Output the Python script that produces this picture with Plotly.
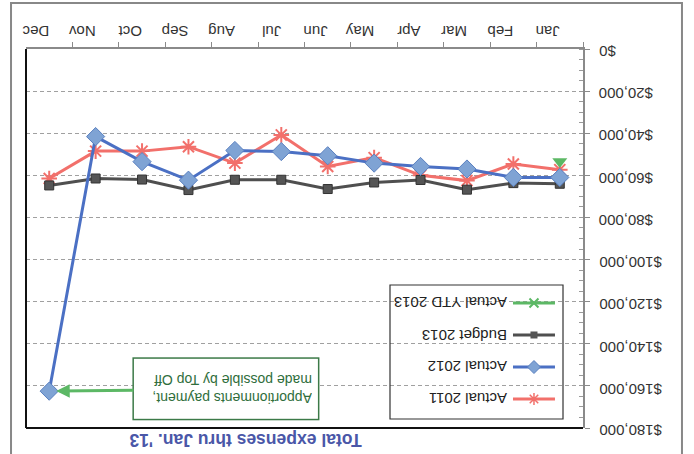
import plotly.graph_objects as go

months = ["Jan", "Feb", "Mar", "Apr", "May", "Jun", "Jul", "Aug", "Sep", "Oct", "Nov", "Dec"]
actual_2011 = [57300, 54600, 62500, 60000, 51600, 55800, 40800, 54200, 46400, 48500, 48500, 61500]
actual_2012 = [61000, 61000, 57000, 55800, 54200, 50700, 48700, 48200, 62300, 53500, 41600, 162500]
budget_2013 = [64000, 63700, 66800, 62200, 63400, 66500, 62100, 62100, 67000, 62000, 61500, 64800]
ytd_2013 = [53400, None, None, None, None, None, None, None, None, None, None, None]
y_ticks = [0, 20000, 40000, 60000, 80000, 100000, 120000, 140000, 160000, 180000]

series_names = ["Actual 2011", "Actual 2012", "Budget 2013", "Actual YTD 2013"]
title_text = "Total expenses thru Jan. '13"
note_text = "Apportionments payment,<br>made possible by Top Off"

RED = "#F2706B"
BLUE = "#4B70C4"
BLUE_FILL = "#7FA3D4"
GRAY = "#4F4F4F"
GREEN = "#5CB865"
FONT = "Liberation Sans, Arial, sans-serif"

fig = go.Figure()

fig.add_trace(go.Scatter(x=months, y=actual_2011, name=series_names[0], mode="lines+markers",
                         line=dict(color=RED, width=3),
                         marker=dict(symbol="asterisk-open", size=13, color=RED, line=dict(color=RED, width=2)),
                         cliponaxis=False))
fig.add_trace(go.Scatter(x=months, y=budget_2013, name=series_names[2], mode="lines+markers",
                         line=dict(color=GRAY, width=3),
                         marker=dict(symbol="square", size=9, color="#555555", line=dict(color="#333333", width=1)),
                         cliponaxis=False))
fig.add_trace(go.Scatter(x=months, y=actual_2012, name=series_names[1], mode="lines+markers",
                         line=dict(color=BLUE, width=3),
                         marker=dict(symbol="diamond", size=14, color=BLUE_FILL, line=dict(color="#5A80C0", width=1)),
                         cliponaxis=False))
fig.add_trace(go.Scatter(x=months, y=ytd_2013, name=series_names[3], mode="lines+markers",
                         line=dict(color=GREEN, width=3),
                         marker=dict(symbol="triangle-down", size=13, color=GREEN),
                         cliponaxis=False))

# hand-made upside-down legend on an overlay axis in paper units
leg_rows = [0.3298, 0.2454, 0.1609, 0.0765]
leg_specs = [
    (series_names[3], GREEN, dict(symbol="x-thin-open", size=9, color=GREEN, line=dict(color=GREEN, width=2))),
    (series_names[2], GRAY, dict(symbol="square", size=7, color="#555555")),
    (series_names[1], BLUE, dict(symbol="diamond", size=10, color=BLUE_FILL, line=dict(color="#5A80C0", width=1))),
    (series_names[0], RED, dict(symbol="asterisk-open", size=10, color=RED, line=dict(color=RED, width=1.5))),
]
for (nm, col, mk), yy in zip(leg_specs, leg_rows):
    fig.add_trace(go.Scatter(x=[0.8743, 0.912, 0.9497], y=[yy, yy, yy], xaxis="x2", yaxis="y2",
                             mode="lines", line=dict(color=col, width=3), showlegend=False,
                             hoverinfo="skip", cliponaxis=False))
    fig.add_trace(go.Scatter(x=[0.912], y=[yy], xaxis="x2", yaxis="y2", mode="markers",
                             marker=mk, showlegend=False, hoverinfo="skip", cliponaxis=False))

annotations = []
for (nm, col, mk), yy in zip(leg_specs, leg_rows):
    annotations.append(dict(x=0.8671, y=yy, xref="paper", yref="paper", text=nm, showarrow=False,
                            textangle=180, xanchor="right", yanchor="middle",
                            font=dict(family=FONT, size=15, color="#222222")))

# y tick labels, upside down, placed on the y scale
for v in y_ticks:
    annotations.append(dict(x=1.0251, y=v, xref="paper", yref="y", text="${:,}".format(v),
                            showarrow=False, textangle=180, xanchor="left", yanchor="middle", yshift=-3,
                            font=dict(family=FONT, size=15, color="#333333")))

annotations.append(dict(x=0.393, y=-0.0317, xref="paper", yref="paper", text="<b>" + title_text + "</b>",
                        showarrow=False, textangle=180, xanchor="center", yanchor="middle",
                        font=dict(family=FONT, size=17.5, color="#4A57A8")))

annotations.append(dict(x="Dec", y=actual_2012[11], xref="x", yref="y", text=note_text,
                        showarrow=True, ax=177, ay=-2, arrowcolor=GREEN, arrowwidth=3,
                        arrowhead=2, arrowsize=0.9, standoff=7, textangle=180,
                        bordercolor="#3C7A48", borderwidth=1.5, borderpad=6, bgcolor="white",
                        width=172, height=48, align="left",
                        font=dict(family=FONT, size=14, color="#2F6E3C")))

fig.update_layout(
    width=694, height=454,
    margin=dict(l=26, r=111, t=49, b=26),
    paper_bgcolor="white", plot_bgcolor="white",
    showlegend=False,
    font=dict(family=FONT, size=15, color="#333333"),
    xaxis=dict(type="category", categoryorder="array", categoryarray=months, automargin=False,
               range=[11.5, -0.5], side="top", showline=True, linecolor="#8A8A8A", linewidth=1.5,
               ticks="outside", tickson="boundaries", ticklen=5, tickcolor="#8A8A8A",
               showgrid=False, tickangle=180, tickfont=dict(size=15, color="#333333"), zeroline=False),
    yaxis=dict(range=[180000, 0], side="right", tickvals=y_ticks, showticklabels=False, automargin=False,
               showline=True, linecolor="#8A8A8A", linewidth=1.5, ticks="outside", ticklen=5,
               tickcolor="#8A8A8A", minor=dict(ticks="inside", ticklen=4, dtick=5000, tickcolor="#9A9A9A"),
               showgrid=True, gridcolor="#A0A0A0", griddash="4px,3px", gridwidth=1, zeroline=False),
    xaxis2=dict(domain=[0, 1], range=[0, 1], overlaying="x", visible=False, fixedrange=True),
    yaxis2=dict(domain=[0, 1], range=[0, 1], overlaying="y", visible=False, fixedrange=True),
    annotations=annotations,
    shapes=[
        dict(type="line", xref="paper", yref="paper", x0=0, x1=0, y0=0, y1=1, line=dict(color="#111111", width=2)),
        dict(type="line", xref="paper", yref="paper", x0=0, x1=1, y0=0, y1=0, line=dict(color="#111111", width=2)),
        dict(type="rect", xref="paper", yref="paper", x0=0.6535, x1=0.9641, y0=0.0237, y1=0.3773,
             line=dict(color="#333333", width=1.2), fillcolor="rgba(255,255,255,0)"),
        dict(type="rect", xref="paper", yref="paper", x0=-0.0269, x1=1.1777, y0=-0.11, y1=1.1214,
             line=dict(color="#888888", width=2), fillcolor="rgba(0,0,0,0)", layer="below"),
    ],
)

fig.write_html("out.html", config={"displayModeBar": False},
               post_script="document.body.style.margin='0px';")
